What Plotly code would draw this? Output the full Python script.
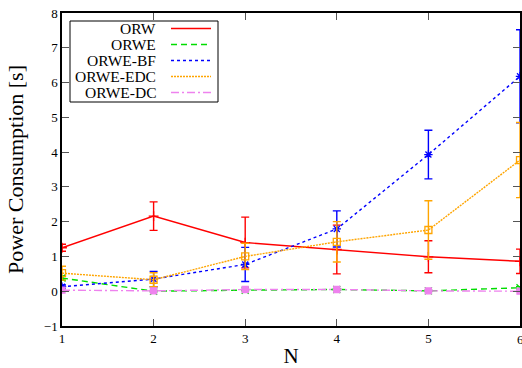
import plotly.graph_objects as go

N = [1, 2, 3, 4, 5, 6]
series_names = ["ORW", "ORWE", "ORWE-BF", "ORWE-EDC", "ORWE-DC"]
orw = [1.25, 2.16, 1.40, 1.20, 0.99, 0.86]
orw_err = [0.10, 0.41, 0.73, 0.70, 0.46, 0.35]
orwe = [0.38, 0.00, 0.03, 0.05, 0.01, 0.10]
orwe_err = [0.06, 0.02, 0.02, 0.02, 0.02, 0.03]
orwe_bf = [0.13, 0.35, 0.77, 1.79, 3.93, 6.18]
orwe_bf_err = [0.05, 0.22, 0.49, 0.52, 0.70, 1.34]
orwe_edc = [0.52, 0.33, 1.00, 1.42, 1.76, 3.77]
orwe_edc_err = [0.20, 0.20, 0.38, 0.58, 0.84, 1.08]
orwe_dc = [0.03, 0.01, 0.05, 0.05, 0.01, 0.00]
orwe_dc_err = [0.01, 0.01, 0.01, 0.01, 0.01, 0.01]

colors = ["#ff0000", "#00dd00", "#0000ff", "#ffa500", "#ee82ee"]
dashes = ["solid", "6px,4px", "3px,3px", "2px,1px", "8px,3px,2px,3px"]
symbols = ["cross-thin", "x-thin", "asterisk", "square-open", "square"]
values = [orw, orwe, orwe_bf, orwe_edc, orwe_dc]
errors = [orw_err, orwe_err, orwe_bf_err, orwe_edc_err, orwe_dc_err]

fig = go.Figure()
for name, y, e, c, d, s in zip(series_names, values, errors, colors, dashes, symbols):
    fig.add_trace(go.Scatter(
        x=N, y=y, name=name, mode="lines+markers",
        line=dict(color=c, width=1.4, dash=d),
        marker=dict(symbol=s, size=7 if s != "square" else 6, color=c,
                    line=dict(color=c, width=1.3)),
        error_y=dict(type="data", array=e, visible=True, color=c,
                     thickness=1.4, width=4),
        showlegend=False,
    ))

font_family = "Liberation Serif, DejaVu Serif, serif"

# custom gnuplot-style legend
L, T, W, H = 62, 13, 458, 313
def px(x):
    return (x - L) / W
def py(y):
    return (T + H - y) / H

shapes = [dict(type="rect", xref="paper", yref="paper",
               x0=px(70), x1=px(218), y0=py(102), y1=py(21),
               line=dict(color="#000000", width=1), fillcolor="white", layer="above")]
annotations = []
row_y = [28.5, 44.5, 60.5, 76.5, 92.5]
for name, c, d, ry in zip(series_names, colors, dashes, row_y):
    annotations.append(dict(xref="paper", yref="paper", x=px(158), y=py(ry),
                            text=name, showarrow=False, xanchor="right", yanchor="middle",
                            font=dict(family=font_family, size=15.5, color="#000000")))
    shapes.append(dict(type="line", xref="paper", yref="paper",
                       x0=px(171), x1=px(211), y0=py(ry), y1=py(ry),
                       line=dict(color=c, width=1.4, dash=d), layer="above"))

# last x tick label (cut by the page edge, as in the reference)
annotations.append(dict(xref="x", yref="paper", x=N[-1], y=0, yshift=-4,
                        text=str(N[-1]), showarrow=False, xanchor="center", yanchor="top",
                        font=dict(family=font_family, size=13, color="#000000")))

fig.update_layout(
    width=522, height=368,
    margin=dict(l=62, r=2, t=13, b=42),
    paper_bgcolor="white", plot_bgcolor="white",
    font=dict(family=font_family, size=13, color="#000000"),
    shapes=shapes, annotations=annotations,
    xaxis=dict(range=[1, 6], tickvals=N, ticks="inside", ticklen=7, tickcolor="#555555",
               mirror="ticks", showline=True, linecolor="#000000", linewidth=1.5,
               showgrid=False, zeroline=False, automargin=False,
               title=dict(text="N", font=dict(size=21), standoff=6)),
    yaxis=dict(range=[-1, 8], dtick=1, ticks="inside", ticklen=7, tickcolor="#555555",
               mirror="ticks", showline=True, linecolor="#000000", linewidth=1.5,
               showgrid=False, zeroline=False, automargin=False,
               title=dict(text="Power Consumption [s]", font=dict(size=22), standoff=14)),
)

fig.write_html("out.html")
